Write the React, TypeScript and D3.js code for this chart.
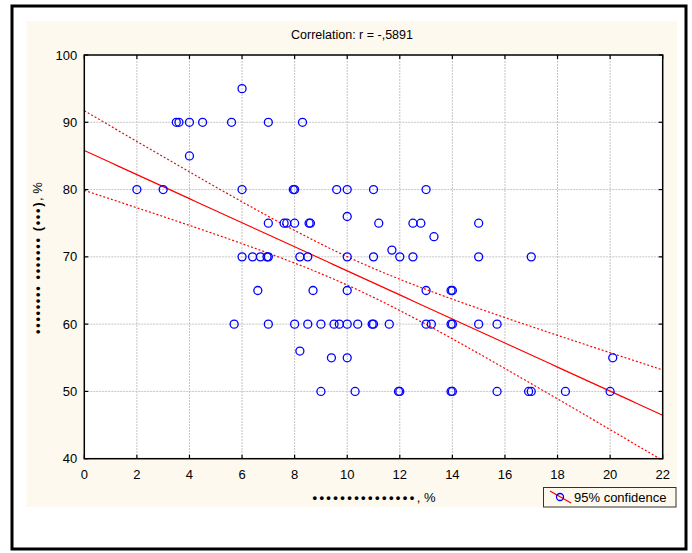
import { useEffect, useRef } from "react";
import * as d3 from "d3";

// points, grouped by y row
const xs95 = [6.0];
const xs90 = [3.5, 3.6, 4.0, 4.5, 5.6, 7.0, 8.3];
const xs85 = [4.0];
const xs80 = [2.0, 3.0, 6.0, 7.95, 8.0, 9.6, 10.0, 11.0, 13.0];
const xs76 = [10.0];
const xs75 = [7.0, 7.6, 7.7, 8.0, 8.55, 8.6, 11.2, 12.5, 12.8, 15.0];
const xs73 = [13.3];
const xs71 = [11.7];
const xs70 = [6.0, 6.4, 6.7, 6.95, 7.0, 8.2, 8.5, 10.0, 11.0, 12.0, 12.5, 15.0, 17.0];
const xs65 = [6.6, 8.7, 10.0, 13.0, 13.95, 14.0];
const xs60 = [5.7, 7.0, 8.0, 8.5, 9.0, 9.5, 9.7, 10.0, 10.4, 10.95, 11.0, 11.6, 13.0, 13.2, 13.95, 14.0, 15.0, 15.7];
const xs56 = [8.2];
const xs55 = [9.4, 10.0, 20.1];
const xs50 = [9.0, 10.3, 11.95, 12.0, 13.95, 14.0, 15.7, 16.9, 17.0, 18.3, 20.0];

const rows: [number, number[]][] = [
  [95, xs95], [90, xs90], [85, xs85], [80, xs80], [76, xs76], [75, xs75], [73, xs73],
  [71, xs71], [70, xs70], [65, xs65], [60, xs60], [56, xs56], [55, xs55], [50, xs50],
];

// fitted line as drawn in the picture
const fitIntercept = 85.8;
const fitSlope = -1.788;

const xTicks = [0, 2, 4, 6, 8, 10, 12, 14, 16, 18, 20, 22];
const yTicks = [40, 50, 60, 70, 80, 90, 100];

const title = "Correlation: r = -,5891";
const xTitle = ["•••••••••••••••", ", %"];
const yTitle = ["•••••••• ••••••• (•••)", ", %"];
const legendLabel = "95% confidence";

const App = () => {
  const ref = useRef<SVGSVGElement>(null);

  useEffect(() => {
    const svg = d3.select(ref.current);
    svg.selectAll("*").remove();

    const W = 692, H = 553;
    const plot = { left: 84.3, right: 662.7, top: 55, bottom: 458.7 };
    const font = "Liberation Sans, Arial, sans-serif";

    const points = rows.flatMap(([y, list]) => list.map((x) => ({ x, y })));

    // outer frame + beige panel
    svg.append("rect").attr("x", 0).attr("y", 0).attr("width", W).attr("height", H).attr("fill", "#fff");
    svg.append("rect").attr("x", 26.5).attr("y", 21).attr("width", 650.5).attr("height", 486).attr("fill", "#fdf9ee");
    svg.append("rect").attr("x", 12).attr("y", 6).attr("width", 674).attr("height", 543)
      .attr("fill", "none").attr("stroke", "#000").attr("stroke-width", 3);

    const x = d3.scaleLinear().domain([0, 22]).range([plot.left, plot.right]);
    const y = d3.scaleLinear().domain([40, 100]).range([plot.bottom, plot.top]);

    svg.append("rect").attr("x", plot.left).attr("y", plot.top)
      .attr("width", plot.right - plot.left).attr("height", plot.bottom - plot.top).attr("fill", "#fff");

    // grid
    const grid = svg.append("g").attr("stroke", "#c4c4c4").attr("stroke-width", 1).attr("stroke-dasharray", "2,1");
    xTicks.slice(1, -1).forEach((t) => {
      grid.append("line").attr("x1", x(t)).attr("x2", x(t)).attr("y1", plot.top).attr("y2", plot.bottom);
    });
    yTicks.slice(1, -1).forEach((t) => {
      grid.append("line").attr("x1", plot.left).attr("x2", plot.right).attr("y1", y(t)).attr("y2", y(t));
    });

    // 95% confidence band around the fitted line
    const n = points.length;
    const mx = d3.mean(points, (d) => d.x)!;
    const sxx = d3.sum(points, (d) => (d.x - mx) ** 2);
    const fit = (v: number) => fitIntercept + fitSlope * v;
    const sse = d3.sum(points, (d) => (d.y - fit(d.x)) ** 2);
    const s = Math.sqrt(sse / (n - 2));
    const tval = 1.99;
    const hw = (v: number) => tval * s * Math.sqrt(1 / n + (v - mx) ** 2 / sxx);
    const xs = d3.range(0, 22.001, 0.25);
    const line = d3.line<number>().x((v) => x(v));

    svg.append("clipPath").attr("id", "plotclip").append("rect")
      .attr("x", plot.left).attr("y", plot.top).attr("width", plot.right - plot.left).attr("height", plot.bottom - plot.top);
    const lines = svg.append("g").attr("clip-path", "url(#plotclip)").attr("fill", "none").attr("stroke", "#ff0000");
    lines.append("path").attr("d", line.y((v) => y(fit(v)))(xs)).attr("stroke-width", 1.2);
    lines.append("path").attr("d", line.y((v) => y(fit(v) + hw(v)))(xs)).attr("stroke-width", 1.2).attr("stroke-dasharray", "2,2");
    lines.append("path").attr("d", line.y((v) => y(fit(v) - hw(v)))(xs)).attr("stroke-width", 1.2).attr("stroke-dasharray", "2,2");

    // points
    svg.append("g").selectAll("circle").data(points).enter().append("circle")
      .attr("cx", (d) => x(d.x)).attr("cy", (d) => y(d.y)).attr("r", 4)
      .attr("fill", "none").attr("stroke", "#0000ff").attr("stroke-width", 1.3);

    // frame and inward ticks
    svg.append("rect").attr("x", plot.left).attr("y", plot.top)
      .attr("width", plot.right - plot.left).attr("height", plot.bottom - plot.top)
      .attr("fill", "none").attr("stroke", "#000").attr("stroke-width", 1.5);
    const ticks = svg.append("g").attr("stroke", "#000").attr("stroke-width", 1.2);
    xTicks.forEach((t) => {
      ticks.append("line").attr("x1", x(t)).attr("x2", x(t)).attr("y1", plot.bottom).attr("y2", plot.bottom - 4);
      ticks.append("line").attr("x1", x(t)).attr("x2", x(t)).attr("y1", plot.top).attr("y2", plot.top + 4);
    });
    yTicks.forEach((t) => {
      ticks.append("line").attr("x1", plot.left).attr("x2", plot.left + 4).attr("y1", y(t)).attr("y2", y(t));
      ticks.append("line").attr("x1", plot.right).attr("x2", plot.right - 4).attr("y1", y(t)).attr("y2", y(t));
    });

    // tick labels
    const labels = svg.append("g").attr("font-family", font).attr("font-size", 13).attr("fill", "#000");
    xTicks.forEach((t) => {
      labels.append("text").attr("x", x(t)).attr("y", plot.bottom + 20).attr("text-anchor", "middle").text(t);
    });
    yTicks.forEach((t) => {
      labels.append("text").attr("x", plot.left - 7).attr("y", y(t) + 4.5).attr("text-anchor", "end").text(t);
    });

    // titles
    svg.append("text").attr("x", 352).attr("y", 39).attr("text-anchor", "middle")
      .attr("font-family", font).attr("font-size", 12.5).text(title);
    const xt = svg.append("text").attr("x", 374).attr("y", 502).attr("text-anchor", "middle")
      .attr("font-family", font).attr("font-size", 13);
    xt.append("tspan").attr("font-weight", "bold").attr("letter-spacing", 2.4).text(xTitle[0]);
    xt.append("tspan").text(xTitle[1]);
    const yt = svg.append("text").attr("transform", "translate(42,258) rotate(-90)").attr("text-anchor", "middle")
      .attr("font-family", font).attr("font-size", 13);
    yt.append("tspan").attr("font-weight", "bold").attr("letter-spacing", 1.6).text(yTitle[0]);
    yt.append("tspan").text(yTitle[1]);

    // legend
    const lg = svg.append("g");
    lg.append("rect").attr("x", 543.5).attr("y", 487.5).attr("width", 132.5).attr("height", 19.5)
      .attr("fill", "#fdf9ee").attr("stroke", "#333").attr("stroke-width", 1);
    lg.append("line").attr("x1", 550).attr("y1", 491).attr("x2", 571).attr("y2", 503)
      .attr("stroke", "#ff0000").attr("stroke-width", 1.2);
    lg.append("circle").attr("cx", 560).attr("cy", 497).attr("r", 3.5)
      .attr("fill", "none").attr("stroke", "#0000ff").attr("stroke-width", 1.3);
    lg.append("text").attr("x", 574).attr("y", 501.5).attr("font-family", font).attr("font-size", 13).text(legendLabel);
  }, []);

  return (
    <svg ref={ref} width={692} height={553} style={{ position: "absolute", left: 0, top: 0 }} />
  );
};

export default App;
